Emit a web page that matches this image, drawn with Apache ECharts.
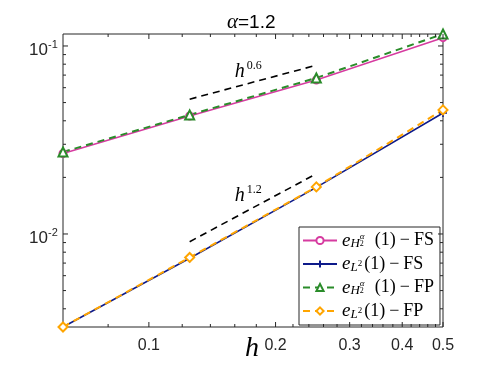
<!DOCTYPE html>
<html><head><meta charset="utf-8">
<script src="https://cdn.jsdelivr.net/npm/echarts@6/dist/echarts.min.js"></script>
<style>html,body{margin:0;padding:0;background:#fff}#c{width:490px;height:368px}</style>
</head><body><div id="c"></div>
<script>
// ---- data ----
const hValues = [0.0625, 0.125, 0.25, 0.5];
const eH_FS  = [0.0268, 0.0424, 0.0659, 0.1107];
const eL2_FS = [0.0032, 0.00743, 0.0177, 0.0440];
const eH_FP  = [0.0273, 0.0430, 0.0676, 0.1158];
const eL2_FP = [0.0032, 0.0075, 0.0178, 0.0457];
const ref06H = [0.125, 0.25];
const ref06E = [0.0521, 0.0790];
const ref12H = [0.125, 0.25];
const ref12E = [0.0091, 0.0209];
const xMajorTicks = [0.1, 0.2, 0.3, 0.4, 0.5];
const xTickLabels = ['0.1', '0.2', '0.3', '0.4', '0.5'];
const xMinorTicks = [0.08, 0.12, 0.14, 0.16, 0.18, 0.22, 0.24, 0.26, 0.28, 0.32, 0.34, 0.36, 0.38, 0.42, 0.44, 0.46, 0.48];
const yMajorTicks = [0.01, 0.1];
const yTickBase = '10';
const yTickExponents = ['-2', '-1'];
const yMinorTicks = [0.004, 0.005, 0.006, 0.007, 0.008, 0.009, 0.02, 0.03, 0.04, 0.05, 0.06, 0.07, 0.08, 0.09];
const X_MIN = 0.0625, X_MAX = 0.5, Y_MIN = 0.0032, Y_MAX = 0.1158;
const annotH = [0.160, 0.160];
const annotE = [0.0727, 0.0159];
const annotExp = ['0.6', '1.2'];
const legendNames = ['eH_FS', 'eL_FS', 'eH_FP', 'eL_FP'];

// ---- styles ----
const AX = '#262626';
const PINK = '#d63ba0', NAVY = '#0d1a8a', GREEN = '#2a8c2a', ORANGE = '#ffa500';
const SERIF = '"Liberation Serif"';
const SANS = '"Liberation Sans"';

const zip = (a, b) => a.map((v, i) => [v, b[i]]);

function xTicks(values, len, labels) {
  return {
    type: 'custom', coordinateSystem: 'cartesian2d', silent: true, z: 5,
    data: values.map(v => [v, Y_MIN]),
    renderItem: function (params, api) {
      const v = api.value(0);
      const b = api.coord([v, Y_MIN]), t = api.coord([v, Y_MAX]);
      const ch = [
        {type: 'line', shape: {x1: b[0], y1: b[1], x2: b[0], y2: b[1] - len}, style: {stroke: AX, lineWidth: 1}},
        {type: 'line', shape: {x1: t[0], y1: t[1], x2: t[0], y2: t[1] + len}, style: {stroke: AX, lineWidth: 1}}
      ];
      if (labels) ch.push({type: 'text', x: b[0], y: b[1] + 19,
        style: {text: labels[params.dataIndex], align: 'center', verticalAlign: 'middle', font: '16px ' + SANS, fill: AX}});
      return {type: 'group', children: ch};
    }
  };
}
function yTicks(values, len, exps) {
  return {
    type: 'custom', coordinateSystem: 'cartesian2d', silent: true, z: 5,
    data: values.map(v => [X_MIN, v]),
    renderItem: function (params, api) {
      const v = api.value(1);
      const l = api.coord([X_MIN, v]), r = api.coord([X_MAX, v]);
      const ch = [
        {type: 'line', shape: {x1: l[0], y1: l[1], x2: l[0] + len, y2: l[1]}, style: {stroke: AX, lineWidth: 1}},
        {type: 'line', shape: {x1: r[0], y1: r[1], x2: r[0] - len, y2: r[1]}, style: {stroke: AX, lineWidth: 1}}
      ];
      if (exps) {
        ch.push({type: 'text', x: l[0] - 15, y: l[1] + 4,
          style: {text: yTickBase, align: 'right', verticalAlign: 'middle', font: '17px ' + SANS, fill: AX}});
        ch.push({type: 'text', x: l[0] - 15, y: l[1] - 1,
          style: {text: exps[params.dataIndex], align: 'left', verticalAlign: 'middle', font: '11px ' + SANS, fill: AX}});
      }
      return {type: 'group', children: ch};
    }
  };
}

const annotSeries = {
  type: 'custom', coordinateSystem: 'cartesian2d', silent: true, z: 6,
  data: zip(annotH, annotE),
  renderItem: function (params, api) {
    const p = api.coord([api.value(0), api.value(1)]);
    return {type: 'group', children: [
      {type: 'text', x: p[0], y: p[1], style: {text: 'h', align: 'left', verticalAlign: 'middle', font: 'italic 20px ' + SERIF, fill: '#000'}},
      {type: 'text', x: p[0] + 12, y: p[1] - 6, style: {text: annotExp[params.dataIndex], align: 'left', verticalAlign: 'middle', font: '12px ' + SERIF, fill: '#000'}}
    ]};
  }
};

const legendRich = {
  e: {fontFamily: SERIF, fontStyle: 'italic', fontSize: 19, lineHeight: 20, verticalAlign: 'middle', color: '#000'},
  sH: {fontFamily: SERIF, fontStyle: 'italic', fontSize: 13, lineHeight: 12, verticalAlign: 'bottom', color: '#000'},
  al: {fontFamily: SERIF, fontStyle: 'italic', fontSize: 9, lineHeight: 8, verticalAlign: 'bottom', padding: [0, 0, 9, 0], width: 0, color: '#000'},
  two: {fontFamily: SERIF, fontSize: 8, lineHeight: 7, verticalAlign: 'bottom', padding: [0, 0, 3, 0], color: '#000'},
  sq: {fontFamily: SERIF, fontSize: 9, lineHeight: 8, verticalAlign: 'bottom', padding: [0, 0, 6, 0], color: '#000'},
  pH: {fontFamily: SERIF, fontSize: 18, lineHeight: 20, verticalAlign: 'middle', padding: [0, 0, 0, 11], color: '#000'},
  pL: {fontFamily: SERIF, fontSize: 18, lineHeight: 20, verticalAlign: 'middle', padding: [0, 0, 0, 2], color: '#000'},
  m: {fontFamily: SERIF, fontSize: 18, lineHeight: 20, verticalAlign: 'middle', padding: [0, 4, 0, 4], color: '#000'},
  t: {fontFamily: SERIF, fontSize: 18, lineHeight: 20, verticalAlign: 'middle', color: '#000'}
};
const legendText = {
  eH_FS: '{e|e}{sH|H}{al|α}{two|2}{pH|(1)}{m|−}{t|FS}',
  eL_FS: '{e|e}{sH|L}{sq|2}{pL|(1)}{m|−}{t|FS}',
  eH_FP: '{e|e}{sH|H}{al|α}{two|2}{pH|(1)}{m|−}{t|FP}',
  eL_FP: '{e|e}{sH|L}{sq|2}{pL|(1)}{m|−}{t|FP}'
};

const option = {
  animation: false,
  backgroundColor: '#fff',
  title: [
    {text: '{a|α}{b|=1.2}', left: 222, top: 7,
      textStyle: {fontWeight: 'normal', rich: {
        a: {fontFamily: SERIF, fontStyle: 'italic', fontWeight: 'normal', fontSize: 21, color: '#000'},
        b: {fontFamily: SANS, fontWeight: 'normal', fontSize: 19, color: '#000'}
      }}},
    {text: 'h', left: 240, top: 330,
      textStyle: {fontFamily: SERIF, fontStyle: 'italic', fontWeight: 'normal', fontSize: 28, color: '#000'}}
  ],
  grid: {left: 63, right: 47, top: 34, bottom: 41, show: true, borderColor: AX, borderWidth: 1, backgroundColor: 'transparent'},
  xAxis: {type: 'log', logBase: 10, min: X_MIN, max: X_MAX,
    axisLine: {show: false}, axisTick: {show: false}, axisLabel: {show: false}, splitLine: {show: false}},
  yAxis: {type: 'log', logBase: 10, min: Y_MIN, max: Y_MAX,
    axisLine: {show: false}, axisTick: {show: false}, axisLabel: {show: false}, splitLine: {show: false}},
  legend: {
    orient: 'vertical', left: 299, top: 227,
    data: legendNames,
    itemWidth: 34, itemHeight: 9, itemGap: 4, itemTextGap: 3,
    padding: [4, 6, 4, 3],
    backgroundColor: '#fff', borderColor: AX, borderWidth: 1, borderRadius: 0,
    formatter: name => legendText[name],
    textStyle: {width: 98, rich: legendRich}
  },
  series: [
    xTicks(xMajorTicks, 5, xTickLabels),
    xTicks(xMinorTicks, 3, null),
    yTicks(yMajorTicks, 5, yTickExponents),
    yTicks(yMinorTicks, 3, null),
    {name: 'ref06', type: 'line', data: zip(ref06H, ref06E), symbol: 'none', silent: true, clip: false,
      lineStyle: {color: '#000', width: 1.6, type: [7, 5]}},
    {name: 'ref12', type: 'line', data: zip(ref12H, ref12E), symbol: 'none', silent: true, clip: false,
      lineStyle: {color: '#000', width: 1.6, type: [7, 5]}},
    {name: 'eH_FS', type: 'line', data: zip(hValues, eH_FS), clip: false,
      symbol: 'emptyCircle', symbolSize: 7,
      lineStyle: {color: PINK, width: 1.5}, itemStyle: {color: PINK, borderColor: PINK, borderWidth: 1.5}},
    {name: 'eL_FS', type: 'line', data: zip(hValues, eL2_FS), clip: false,
      symbol: 'path://M0 5L10 5M5 0L5 10', symbolSize: 8, symbolKeepAspect: true,
      lineStyle: {color: NAVY, width: 1.5}, itemStyle: {color: NAVY, borderColor: NAVY, borderWidth: 1.5}},
    {name: 'eH_FP', type: 'line', data: zip(hValues, eH_FP), clip: false,
      symbol: 'emptyTriangle', symbolSize: 9,
      lineStyle: {color: GREEN, width: 2, type: [7, 5]}, itemStyle: {color: GREEN, borderColor: GREEN, borderWidth: 1.5}},
    {name: 'eL_FP', type: 'line', data: zip(hValues, eL2_FP), clip: false,
      symbol: 'emptyDiamond', symbolSize: 9,
      lineStyle: {color: ORANGE, width: 2, type: [7, 5]}, itemStyle: {color: ORANGE, borderColor: ORANGE, borderWidth: 1.5}},
    annotSeries
  ]
};
const chart = echarts.init(document.getElementById('c'), null, {renderer: 'canvas'});
chart.setOption(option);
</script>
</body></html>
